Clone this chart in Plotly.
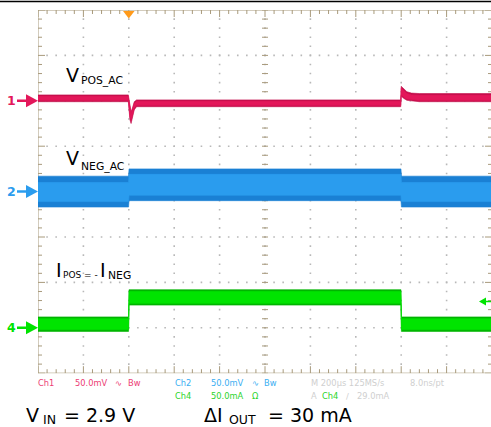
import plotly.graph_objects as go

# ---------------- data (read from the screen capture) ----------------
# time in microseconds, trigger at 0; 200 us/div
time_per_div = 200
t_left = -400

# Ch1: V_POS_AC, mV relative to channel marker, 50 mV/div, marker at +2 div
ch1_scale = 50.0
ch1_offset = 2.0
ch1_t = [-400, -2, 0, 5, 10, 16, 24, 34, 50, 1198, 1200, 1204, 1212, 1225, 1245, 1280, 1600]
ch1_outer_hi = [6.5, 6.5, 3, -8, -12, -8, -1, 1, 1, 1, 16, 15, 12.5, 10, 8.5, 8, 8]
ch1_outer_lo = [-1, -1, -6, -21, -25, -19, -10, -6.5, -6.5, -6.5, 5, 4, 2.5, 0.5, -0.5, -1, -1]
ch1_inner_hi = [5, 5, 1, -10, -14, -10, -3, -0.5, -0.5, -0.5, 14, 13, 10.5, 8, 6.5, 6, 6]
ch1_inner_lo = [0.5, 0.5, -4.5, -18, -22, -16, -8, -5, -5, -5, 6.5, 5.5, 4, 2, 1, 0.5, 0.5]

# Ch2: V_NEG_AC, mV relative to marker, 50 mV/div, marker at 0 div
ch2_scale = 50.0
ch2_offset = 0.0
ch2_t = [-400, -1, 1, 1199, 1201, 1600]
ch2_outer_hi = [17, 17, 25, 25, 17, 17]
ch2_outer_lo = [-17, -17, -10, -10, -17, -17]
ch2_inner_hi = [10, 10, 19, 19, 10, 10]
ch2_inner_lo = [-11, -11, -4, -4, -11, -11]

# Ch4: I_POS = -I_NEG, mA relative to marker, 50 mA/div, marker at -3 div
ch4_scale = 50.0
ch4_offset = -3.0
ch4_t = [-400, -1, 1, 1199, 1201, 1600]
ch4_outer_hi = [12, 12, 42, 42, 12, 12]
ch4_outer_lo = [-4, -4, 25, 25, -4, -4]
ch4_inner_hi = [10, 10, 40, 40, 10, 10]
ch4_inner_lo = [-2, -2, 27, 27, -2, -2]

trigger_level_ma = 29.0

status_row1 = [("Ch1", 38, "ch1"), ("50.0mV", 75, "ch1"), ("\u223f", 115, "ch1"), ("Bw", 128, "ch1"),
               ("Ch2", 175, "ch2"), ("50.0mV", 211, "ch2"), ("\u223f", 252, "ch2"), ("Bw", 264, "ch2"),
               ("M 200\u00b5s 125MS/s", 311, "grey"), ("8.0ns/pt", 410, "grey")]
status_row2 = [("Ch4", 175, "ch4"), ("50.0mA", 211, "ch4"), ("\u03a9", 252, "ch4"),
               ("A", 311, "grey"), ("Ch4", 322, "ch4"), ("\u2215", 346, "grey"), ("29.0mA", 357, "grey")]

# ---------------- layout constants ----------------
W, H = 491, 427
X0, X1 = 38, 491
Y0, Y1 = 10, 373.2
DIVPX = 45.4
t_right = t_left + (X1 - X0) / DIVPX * time_per_div

C1 = "#E3175A"
C1D = "#C40F4C"
C2 = "#2A9CEE"
C2D = "#1A80D4"
C4 = "#00E400"
C4D = "#00B400"
FRAME = "#A89A7C"
DOT = "#B8B8B8"
TEXTC = {"ch1": "#EC3C74", "ch2": "#3AAEF2", "ch4": "#2BD42B", "grey": "#CFCFCF"}
FONT = "DejaVu Sans"


def pxx(p):
    return p / W


def pyy(p):
    return 1 - p / H


def dt(px):
    return px / DIVPX * time_per_div


def dv(px):
    return px / DIVPX


fig = go.Figure()

# ---------------- graticule ----------------
gx, gy = [], []
for k in range(1, 10):
    t = t_left + k * time_per_div
    for j in range(1, 40):
        gx.append(t)
        gy.append(-4 + 0.2 * j)
for k in range(1, 8):
    y = -4 + k
    for j in range(1, 50):
        gx.append(t_left + j * time_per_div / 5)
        gy.append(y)
fig.add_trace(go.Scatter(x=gx, y=gy, mode="markers", hoverinfo="skip",
                         marker=dict(size=1.6, color=DOT, symbol="square", line=dict(width=0))))

# border + tick lines
lx, ly = [], []
tc = t_left + 5 * time_per_div
t_border_r = t_left + 10 * time_per_div
for j in range(0, 51):
    t = t_left + j * time_per_div / 5
    L = 7 if j % 5 == 0 else 4
    lx += [t, t, None, t, t, None]
    ly += [4, 4 - dv(L), None, -4, -4 + dv(L), None]
    lx += [t, t, None]
    ly += [-dv(3), dv(3), None]
for j in range(0, 41):
    y = -4 + 0.2 * j
    L = 7 if j % 5 == 0 else 4
    lx += [t_left, t_left + dt(L), None, t_border_r, t_border_r - dt(L), None]
    ly += [y, y, None, y, y, None]
    lx += [tc - dt(3), tc + dt(3), None]
    ly += [y, y, None]
lx += [t_left, t_left, None, t_left, t_border_r, None, t_left, t_border_r, None]
ly += [-4, 4, None, 4, 4, None, -4, -4, None]
fig.add_trace(go.Scatter(x=lx, y=ly, mode="lines", hoverinfo="skip",
                         line=dict(color=FRAME, width=1)))


# ---------------- traces ----------------
def band(t, hi, lo, scale, offset, color):
    xs = list(t) + list(reversed(t))
    ys = [offset + v / scale for v in hi] + [offset + v / scale for v in reversed(lo)]
    fig.add_trace(go.Scatter(x=xs, y=ys, mode="lines", fill="toself", fillcolor=color,
                             line=dict(width=0.6, color=color), hoverinfo="skip"))


band(ch1_t, ch1_outer_hi, ch1_outer_lo, ch1_scale, ch1_offset, C1D)
band(ch1_t, ch1_inner_hi, ch1_inner_lo, ch1_scale, ch1_offset, C1)
band(ch2_t, ch2_outer_hi, ch2_outer_lo, ch2_scale, ch2_offset, C2D)
band(ch2_t, ch2_inner_hi, ch2_inner_lo, ch2_scale, ch2_offset, C2)
band(ch4_t, ch4_outer_hi, ch4_outer_lo, ch4_scale, ch4_offset, C4D)
band(ch4_t, ch4_inner_hi, ch4_inner_lo, ch4_scale, ch4_offset, C4)

# trigger position marker
fig.add_trace(go.Scatter(x=[0], y=[4 - dv(3.5)], mode="markers", cliponaxis=False, hoverinfo="skip",
                         marker=dict(symbol="triangle-down", size=10, color="#FF9A1A", line=dict(width=0))))

shapes = []
annotations = []

# channel markers on left
for label, offset, col in [("1", ch1_offset, C1), ("2", ch2_offset, C2), ("4", ch4_offset, C4)]:
    shapes.append(dict(type="line", xref="paper", yref="y", x0=pxx(17), x1=pxx(29), y0=offset, y1=offset,
                       line=dict(color=col, width=2.5)))
    shapes.append(dict(type="path", xref="paper", yref="y",
                       path=f"M {pxx(26)} {offset + dv(6.5)} L {pxx(38)} {offset} L {pxx(26)} {offset - dv(6.5)} Z",
                       fillcolor=col, line=dict(width=0)))
    annotations.append(dict(text=label, xref="paper", yref="y", x=pxx(11), y=offset, xanchor="center",
                            yanchor="middle", showarrow=False, borderpad=0, borderwidth=0,
                            font=dict(family=FONT, size=12.5, color=col, weight="bold")))

# trigger level arrow on the right
ty = ch4_offset + trigger_level_ma / ch4_scale
shapes.append(dict(type="line", xref="paper", yref="y", x0=pxx(484), x1=pxx(492), y0=ty, y1=ty,
                   line=dict(color=C4, width=1.5)))
shapes.append(dict(type="path", xref="paper", yref="y",
                   path=f"M {pxx(486)} {ty + dv(4)} L {pxx(479)} {ty} L {pxx(486)} {ty - dv(4)} Z",
                   fillcolor=C4, line=dict(width=0)))

# top black line
shapes.append(dict(type="line", xref="paper", yref="paper", x0=0, x1=1, y0=pyy(1.5), y1=pyy(1.5),
                   line=dict(color="#000000", width=1.3)))


def txt(s, x, y, size, color="#000000"):
    annotations.append(dict(text=s, xref="paper", yref="paper", x=pxx(x), y=pyy(y), xanchor="left",
                            yanchor="middle", showarrow=False, borderpad=0, borderwidth=0,
                            font=dict(family=FONT, size=size, color=color)))


# trace labels
txt("V", 66, 75, 19)
txt("POS_AC", 81, 80.5, 10.8)
txt("V", 66, 158, 19)
txt("NEG_AC", 81, 166, 10.8)
txt("I", 56, 270, 19)
txt("POS = -", 63, 275, 9)
txt("I", 100, 270, 19)
txt("NEG", 108, 275, 10.8)

# status lines
for s, x, c in status_row1:
    txt(s, x, 383, 8.3, TEXTC[c])
for s, x, c in status_row2:
    txt(s, x, 396, 8.3, TEXTC[c])

# bottom captions
txt("V", 26, 415, 19)
txt("IN", 43, 419.5, 12.5)
txt("= 2.9 V", 64, 415, 19)
txt("\u0394I", 204, 415, 19)
txt("OUT", 229, 419.5, 12.5)
txt("= 30 mA", 268, 415, 19)

fig.update_layout(
    width=W, height=H, margin=dict(l=0, r=0, t=0, b=0),
    paper_bgcolor="white", plot_bgcolor="white", showlegend=False,
    xaxis=dict(domain=[X0 / W, X1 / W], range=[t_left, t_right], visible=False, fixedrange=True),
    yaxis=dict(domain=[1 - Y1 / H, 1 - Y0 / H], range=[-4, 4], visible=False, fixedrange=True),
    shapes=shapes, annotations=annotations,
)

fig.write_html("out.html", config={"displayModeBar": False},
               post_script="document.body.style.margin='0px';document.body.style.overflow='hidden';")
